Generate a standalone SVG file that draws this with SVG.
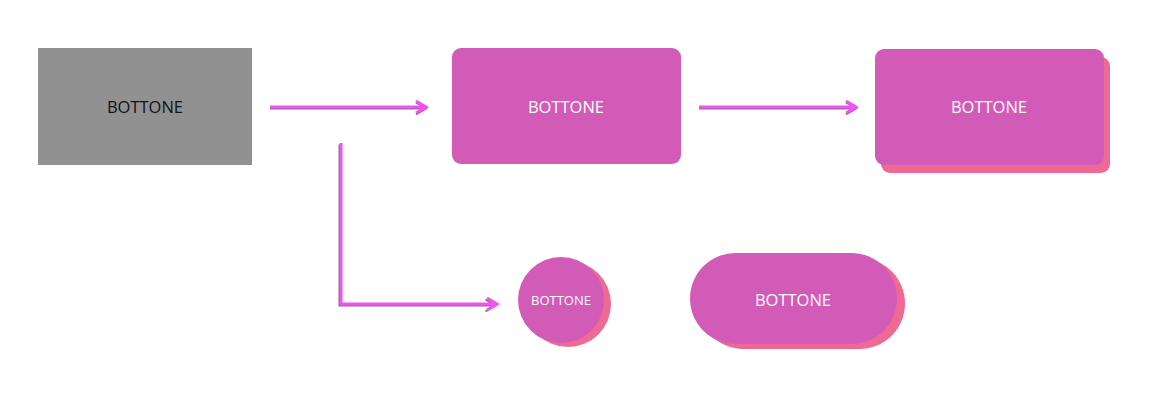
<svg xmlns="http://www.w3.org/2000/svg" width="1150" height="400" viewBox="0 0 1150 400">
<style>
.lbl{font-family:"Open Sans","Noto Sans",sans-serif;font-size:16.5px;text-anchor:middle;fill:#ffffff}
.dark{fill:#111111}
.btn{fill:#d35bb8}
.sh{fill:#ee6a93}
.ln{fill:none;stroke:#f452f4;stroke-width:3}
.lns{fill:none;stroke:#8a6a8a;stroke-width:2}
</style>
<rect width="1150" height="400" fill="#ffffff"/>
<g id="connectors">
  <g transform="translate(0,1.5)">
    <path class="lns" d="M270 107 H426 M416 101 L426 107 L416 113"/>
    <path class="lns" d="M699 107 H856 M846 101 L856 107 L846 113"/>
  </g>
  <g transform="translate(-1.5,1.5)">
    <path class="lns" d="M341 143 V304 H497 M487 298 L497 304 L487 310"/>
  </g>
  <path class="ln" d="M270 107 H426 M416 101 L426 107 L416 113"/>
  <path class="ln" d="M699 107 H856 M846 101 L856 107 L846 113"/>
  <path class="ln" d="M341 143 V304 H497 M487 298 L497 304 L487 310"/>
</g>
<g id="node-gray">
  <rect x="38" y="48" width="214" height="117" fill="#919191"/>
  <text class="lbl dark" x="145" y="113">BOTTONE</text>
</g>
<g id="node-rounded">
  <rect class="btn" x="452" y="48" width="229" height="116" rx="9"/>
  <text class="lbl" x="566" y="113">BOTTONE</text>
</g>
<g id="node-shadow">
  <rect class="sh" x="881" y="57" width="229" height="116" rx="9"/>
  <rect class="btn" x="875" y="49" width="229" height="116" rx="9"/>
  <text class="lbl" x="989" y="113">BOTTONE</text>
</g>
<g id="node-circle">
  <circle class="sh" cx="568" cy="304" r="43"/>
  <circle class="btn" cx="561" cy="300" r="43"/>
  <text class="lbl" x="561" y="305" style="font-size:13px">BOTTONE</text>
</g>
<g id="node-pill">
  <rect class="sh" x="698" y="258" width="207" height="91" rx="45.5"/>
  <rect class="btn" x="690" y="253" width="207" height="91" rx="45.5"/>
  <text class="lbl" x="793" y="306">BOTTONE</text>
</g>
</svg>
